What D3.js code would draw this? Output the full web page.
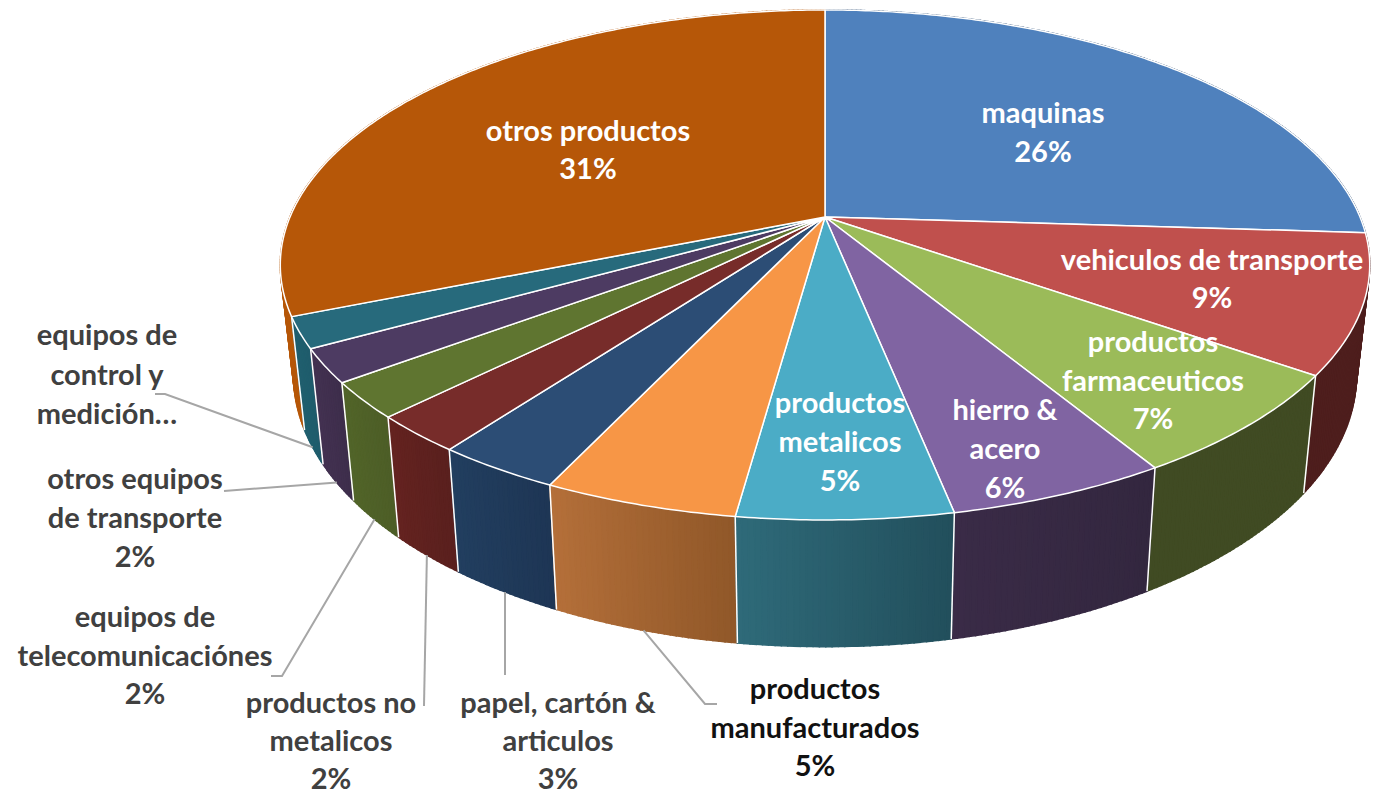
<!DOCTYPE html>
<html>
<head>
<meta charset="utf-8">
<script src="https://cdnjs.cloudflare.com/ajax/libs/d3/7.8.5/d3.min.js"></script>
<style>
    body { margin: 0; background: #fff; }
    svg { display: block; }
    text { font-family: Lato, sans-serif; font-weight: 700; font-size: 29px; text-anchor: middle; dominant-baseline: central; }
</style>
</head>
<body>
<div id="chart"></div>
<script>
// slices run clockwise from 12 o'clock
var categories = ["maquinas", "vehiculos de transporte", "productos farmaceuticos", "hierro & acero",
    "productos metalicos", "productos manufacturados", "papel, cartón & articulos", "productos no metalicos",
    "equipos de telecomunicaciónes", "otros equipos de transporte", "equipos de control y medición…", "otros productos"];
var values = [26, 8.76, 6.58, 5.5, 5.34, 4.84, 3.15, 2.36, 2.27, 2.11, 1.95, 31.14];

// how each label is broken over lines; the control label is cut off in the original, no percent
var labelLines = [
    ["maquinas"],
    ["vehiculos de transporte"],
    ["productos", "farmaceuticos"],
    ["hierro &", "acero"],
    ["productos", "metalicos"],
    ["productos", "manufacturados"],
    ["papel, cartón &", "articulos"],
    ["productos no", "metalicos"],
    ["equipos de", "telecomunicaciónes"],
    ["otros equipos", "de transporte"],
    ["equipos de", "control y", "medición…"],
    ["otros productos"]
];
var showPct = [true, true, true, true, true, true, true, true, true, true, false, true];

var topColors = ["#4F81BD", "#C0504D", "#9BBB59", "#8064A2", "#4BACC6", "#F79646",
    "#2C4D75", "#772C2A", "#5F7530", "#4D3B62", "#276A7C", "#B65708"];
// side wall colours, left and right end of the slice
var wallColors = [
    ["#2C4D75", "#2C4D75"], ["#4E1E1D", "#4E1E1D"], ["#404B23", "#404B23"], ["#3A2B47", "#33273F"],
    ["#2F6B7A", "#224F5C"], ["#B5703A", "#915829"], ["#223F60", "#1E3655"], ["#652320", "#5A201E"],
    ["#526529", "#4D5E27"], ["#443252", "#3E2E4C"], ["#20606F", "#1F5C6C"], ["#B65708", "#B65708"]
];

// label placement: centre x, y of first line, line step, colour
var labelPlace = [
    [1043, 111, 39, "#fff"], [1212, 258, 38, "#fff"], [1153, 340, 38.5, "#fff"], [1005, 408, 39, "#fff"],
    [840, 401, 39, "#fff"], [815, 687, 38.5, "#111"], [558, 701, 37.75, "#404040"], [331, 701, 37.75, "#404040"],
    [145, 615, 38.5, "#404040"], [135, 477, 39, "#404040"], [107, 333, 39.5, "#404040"], [588, 129, 38, "#fff"]
];
// leader lines start from the label side, they end on the slice wall
var leaderStarts = {
    5: [[717, 704], [705, 704]],
    6: [[505, 675]],
    7: [[424, 706]],
    8: [[271, 676], [282, 676]],
    9: [[224, 491]],
    10: [[155, 394], [165, 394]]
};

var width = 1373,
    height = 794;

var svg = d3.select("#chart").append("svg")
    .attr("width", width)
    .attr("height", height);

var persp = 0.188;

// top face and bottom rim of the disc
var xTop = d3.scaleLinear().domain([-1, 1]).range([290, 1360]);
var yTop = d3.scaleLinear().domain([0, 1]).range([217, 463]);
var xBottom = d3.scaleLinear().domain([-1, 1]).range([303, 1347]);
var yBottom = d3.scaleLinear().domain([0, 1]).range([324, 586]);

function project(angle, xs, ys) {
    var u = Math.sin(angle),
        v = -Math.cos(angle),
        d = 1 - persp * v;
    return [xs(u / d), ys(v / d)];
}
function topPoint(a) { return project(a, xTop, yTop); }
function bottomPoint(a) { return project(a, xBottom, yBottom); }

var pie = d3.pie().sort(null).value(function(d) { return d; });
var slices = pie(values);

var line = d3.line();

// walls, thin strips from the back to the front
var strips = [];
slices.forEach(function(s, i) {
    var n = Math.max(6, Math.ceil((s.endAngle - s.startAngle) / 0.01));
    var c = d3.interpolateRgb(wallColors[i][0], wallColors[i][1]);
    d3.range(n).forEach(function(k) {
        var a0 = s.startAngle + (s.endAngle - s.startAngle) * k / n,
            a1 = s.startAngle + (s.endAngle - s.startAngle) * (k + 1) / n;
        strips.push({a0: a0, a1: a1, color: c(1 - k / n)});
    });
});
strips.sort(function(a, b) { return Math.cos(b.a0) - Math.cos(a.a0); });

svg.append("g").attr("class", "walls")
    .selectAll("path")
    .data(strips)
    .enter().append("path")
    .attr("d", function(d) {
        return line([topPoint(d.a0), topPoint(d.a1), bottomPoint(d.a1), bottomPoint(d.a0)]) + "Z";
    })
    .attr("fill", function(d) { return d.color; })
    .attr("stroke", function(d) { return d.color; })
    .attr("stroke-width", 1.5);

// white edge between neighbouring walls
svg.append("g").attr("class", "wall-edges")
    .selectAll("line")
    .data(slices.filter(function(s) { return -Math.cos(s.endAngle) > 0.3; }))
    .enter().append("line")
    .attr("x1", function(d) { return topPoint(d.endAngle)[0]; })
    .attr("y1", function(d) { return topPoint(d.endAngle)[1]; })
    .attr("x2", function(d) { return bottomPoint(d.endAngle)[0]; })
    .attr("y2", function(d) { return bottomPoint(d.endAngle)[1]; })
    .attr("stroke", "#fff")
    .attr("stroke-width", 1.5);

// top faces
svg.append("g").attr("class", "tops")
    .selectAll("path")
    .data(slices)
    .enter().append("path")
    .attr("d", function(d) {
        var n = Math.ceil((d.endAngle - d.startAngle) / 0.01);
        var pts = d3.range(n + 1).map(function(k) {
            return topPoint(d.startAngle + (d.endAngle - d.startAngle) * k / n);
        });
        pts.push([xTop(0), yTop(0)]);
        return line(pts) + "Z";
    })
    .attr("fill", function(d, i) { return topColors[i]; })
    .attr("stroke", "#fff")
    .attr("stroke-width", 1.5)
    .attr("stroke-linejoin", "round");

// leader lines
svg.append("g").attr("class", "leaders")
    .selectAll("path")
    .data(Object.keys(leaderStarts))
    .enter().append("path")
    .attr("d", function(key) {
        var s = slices[key];
        return line(leaderStarts[key].concat([bottomPoint((s.startAngle + s.endAngle) / 2)]));
    })
    .attr("fill", "none")
    .attr("stroke", "#A6A6A6")
    .attr("stroke-width", 2);

// labels
var fmt = d3.format(".0f");
var label = svg.append("g").attr("class", "labels")
    .selectAll("text")
    .data(slices)
    .enter().append("text")
    .attr("fill", function(d, i) { return labelPlace[i][3]; })
    .attr("aria-label", function(d, i) { return categories[i]; });

label.selectAll("tspan")
    .data(function(d, i) {
        var rows = labelLines[i].slice();
        if (showPct[i]) rows.push(fmt(d.value) + "%");
        return rows.map(function(t, k) { return {text: t, i: i, k: k}; });
    })
    .enter().append("tspan")
    .attr("x", function(d) { return labelPlace[d.i][0]; })
    .attr("y", function(d) { return labelPlace[d.i][1] + d.k * labelPlace[d.i][2]; })
    .text(function(d) { return d.text; });
</script>
</body>
</html>
